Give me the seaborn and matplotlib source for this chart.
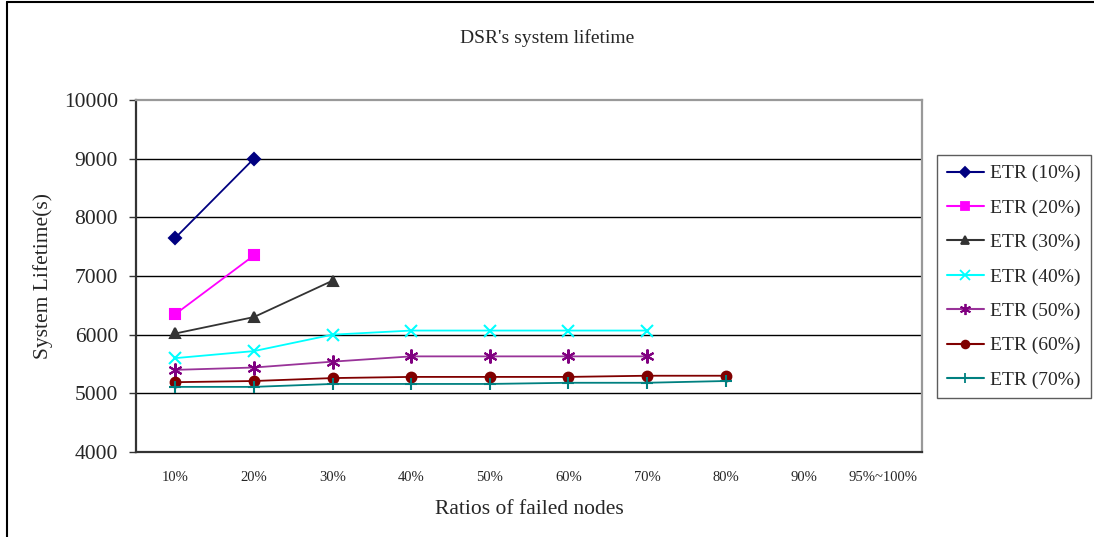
import numpy as np
import pandas as pd
import matplotlib
matplotlib.use("Agg")
import matplotlib.pyplot as plt
from matplotlib.lines import Line2D
import seaborn as sns

categories = ["10%", "20%", "30%", "40%", "50%", "60%", "70%", "80%", "90%", "95%~100%"]
etr10 = [7650, 9000]
etr20 = [6350, 7350]
etr30 = [6020, 6300, 6920]
etr40 = [5600, 5720, 6000, 6070, 6070, 6070, 6070]
etr50 = [5400, 5440, 5540, 5630, 5630, 5630, 5630]
etr60 = [5190, 5210, 5260, 5280, 5280, 5280, 5300, 5300]
etr70 = [5110, 5110, 5160, 5160, 5160, 5180, 5180, 5210]
series_names = ["ETR (10%)", "ETR (20%)", "ETR (30%)", "ETR (40%)", "ETR (50%)", "ETR (60%)", "ETR (70%)"]
series_values = [etr10, etr20, etr30, etr40, etr50, etr60, etr70]
y_ticks = [4000, 5000, 6000, 7000, 8000, 9000, 10000]

colors = ["#000080", "#FF00FF", "#333333", "#00FFFF", "#993399", "#800000", "#008080"]
mcolors = ["#000080", "#FF00FF", "#333333", "#00FFFF", "#800080", "#800000", "#008080"]
markers = ["D", "s", "^", "x", (6, 2, 0), "o", "+"]
msizes = [6, 7, 7, 9, 10, 7, 9]

sns.set_theme(style="white")
plt.rcParams["font.family"] = ["Liberation Serif", "DejaVu Serif"]

fig = plt.figure(figsize=(10.94, 5.37), dpi=100)
ax = fig.add_axes([136/1094, 1-452/537, (922-136)/1094, (452-100)/537])

rows = []
for name, vals in zip(series_names, series_values):
    for i, v in enumerate(vals):
        rows.append({"x": i, "y": v, "series": name})
df = pd.DataFrame(rows)

handles = []
for name, c, mc, m, ms in zip(series_names, colors, mcolors, markers, msizes):
    sub = df[df["series"] == name]
    sns.lineplot(data=sub, x="x", y="y", ax=ax, color=c, linewidth=1.3,
                 marker=m, markersize=ms, markerfacecolor=mc, markeredgecolor=mc,
                 markeredgewidth=1.5, legend=False)
    handles.append(Line2D([], [], color=c, linewidth=1.5, marker=m,
                          markersize=ms * 0.8, markerfacecolor=mc,
                          markeredgecolor=mc, markeredgewidth=1.3, label=name))

ax.set_xlim(-0.5, len(categories) - 0.5)
ax.set_ylim(4000, 10000)
ax.set_yticks(y_ticks)
ax.set_yticklabels([str(t) for t in y_ticks], fontsize=15.5)
ax.set_xticks(range(len(categories)))
ax.set_xticklabels(categories, fontsize=10.5)
ax.set_xticks(np.arange(0.5, len(categories) - 0.5, 1.0), minor=True)
ax.tick_params(axis="x", which="major", length=0, pad=14)
ax.tick_params(axis="x", which="minor", direction="in", length=5, width=1, color="#333333")
ax.tick_params(axis="y", which="major", direction="out", length=5, width=1, color="#333333", pad=8, left=True)

for t in y_ticks[1:-1]:
    ax.axhline(t, color="black", linewidth=1.0, zorder=0)

for s in ["left", "bottom"]:
    ax.spines[s].set_color("#333333")
    ax.spines[s].set_linewidth(1.6)
for s in ["top", "right"]:
    ax.spines[s].set_color("#999999")
    ax.spines[s].set_linewidth(1.6)
    ax.spines[s].set_visible(True)

ax.set_xlabel("Ratios of failed nodes", fontsize=15.5, labelpad=11)
ax.set_ylabel("System Lifetime(s)", fontsize=15.5, labelpad=8)

fig.text(547/1094, 1-38/537, "DSR's system lifetime", ha="center", va="center", fontsize=14)

leg = fig.legend(handles=handles, loc="upper left",
                 bbox_to_anchor=(937/1094, 1-155/537), frameon=True,
                 fontsize=14, handlelength=1.9, labelspacing=0.86,
                 borderpad=0.5, handletextpad=0.35, borderaxespad=0)
leg.get_frame().set_edgecolor("#333333")
leg.get_frame().set_linewidth(1.0)
leg.get_frame().set_boxstyle("square", pad=0)

# outer frame (top and left only visible)
fig.add_artist(Line2D([7/1094, 7/1094], [0, 1-2/537], transform=fig.transFigure, color="black", linewidth=1.5))
fig.add_artist(Line2D([7/1094, 1], [1-2/537, 1-2/537], transform=fig.transFigure, color="black", linewidth=1.5))

fig.savefig("out.png", dpi=100)
